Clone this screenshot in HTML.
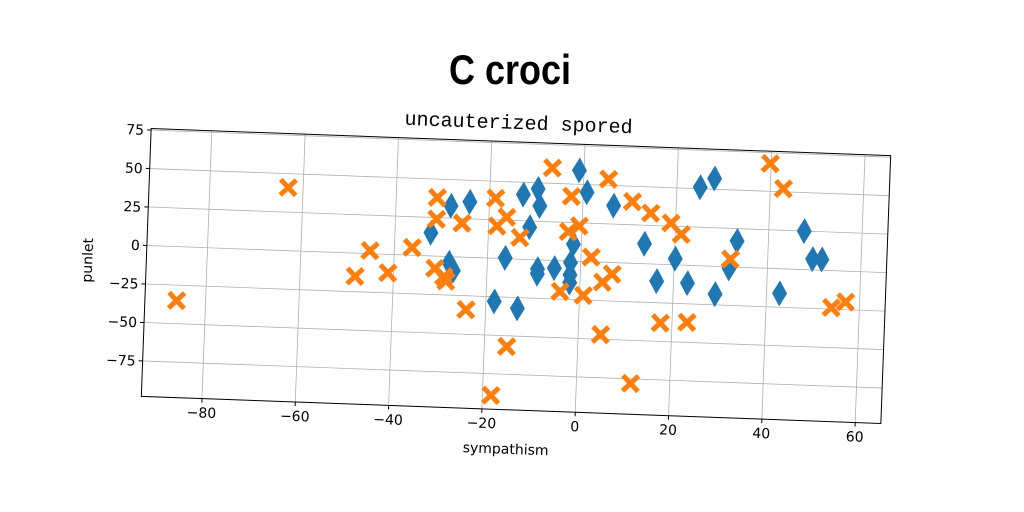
<!DOCTYPE html>
<html><head><meta charset="utf-8">
<style>
html,body{margin:0;padding:0;background:#fff;}
svg{display:block;}
text{font-family:"DejaVu Sans","Liberation Sans",sans-serif;}
</style></head>
<body>
<svg id="chart" width="1024" height="512" viewBox="0 0 1024 512" xmlns="http://www.w3.org/2000/svg">
  <rect width="1024" height="512" fill="#fff"/>
  <text x="510" y="84" text-anchor="middle" font-size="40" font-weight="bold" style="font-family:'Liberation Sans',sans-serif" transform="translate(510,0) scale(0.9,1.05) translate(-510,-4)">C croci</text>
  <g id="plot" transform="rotate(2.1,516,276)">
    <text x="513" y="129" text-anchor="middle" font-size="20" style="font-family:'Liberation Mono',monospace">uncauterized spored</text>
    <g id="grid"></g>
    <g id="marks"></g>
    <rect x="146" y="142" width="740" height="268" fill="none" stroke="#000" stroke-width="1"/>
    <g id="ticks"></g>
    <text x="512" y="454" text-anchor="middle" font-size="14">sympathism</text>
    <text x="0" y="0" text-anchor="middle" font-size="14" transform="translate(92,276) rotate(-90)">punlet</text>
  </g>
</svg>
<script>
const xTicks=[-80,-60,-40,-20,0,20,40,60];
const yTicks=[-75,-50,-25,0,25,50,75];
const seriesAx=[-32.3,-28.2,-28.2,-27.2,-24.2,-18.2,-16.2,-13.2,-12.8,-11.2,-9.7,-9.2,-9.2,-9.2,-5.6,-2.2,-2.2,-1,-1.7,-2.2,0.8,6.6,13.5,16.4,20.2,23,25,28,29,31.8,33.3,42.8,47.6,49.6,51.6];
const seriesAy=[15,33,-4,-9,36,-28,0.5,-32,42,21,46,35,-6,-9,-5,-1,-9,59,11,-14,45,37,13,-11,4,-11.5,51,57,-18,-1,17,-16,25,7,7];
const seriesBx=[-86.2,-63.2,-48.2,-45.2,-41.2,-36.2,-31.2,-31.2,-31.2,-29.2,-28.7,-25.7,-24.2,-18.2,-18.7,-18.2,-16.2,-15.2,-13.2,-6.8,-4.2,-2.9,-2.5,-0.6,0.8,2.2,4.8,4.8,5.3,6.8,10.6,11.6,14.6,17.5,19,21.3,23.2,32,39.8,42.8,54,57];
const seriesBy=[-35,41,-15,2,-12,5,38,24,-8,-13,-16,22,-34,-89,39,21,27,-57,14,60,-20,19,42,23,-22,3,-47,-13,54,-7.5,40,-78,33,-38,27,20,-37,5,68,52,-24,-20];
const X0=146,X1=886,Y0=142,Y1=410,xmin=-93,xmax=65.5,ymin=-98,ymax=76;
const sx=v=>X0+(v-xmin)/(xmax-xmin)*(X1-X0);
const sy=v=>Y1-(v-ymin)/(ymax-ymin)*(Y1-Y0);
const NS="http://www.w3.org/2000/svg";
const grid=document.getElementById('grid'),ticks=document.getElementById('ticks'),marks=document.getElementById('marks');
function mk(t,a){const e=document.createElementNS(NS,t);for(const k in a)e.setAttribute(k,a[k]);return e;}
xTicks.forEach(v=>{
  const l=mk('line',{x1:sx(v),x2:sx(v),y1:Y0,y2:Y1,stroke:'#b0b0b0','stroke-width':0.8});
  
  
  grid.appendChild(l);
  const t=mk('line',{x1:sx(v),x2:sx(v),y1:Y1,y2:Y1+4,stroke:'#000'});
  
  
  ticks.appendChild(t);
  const s=mk('text',{x:sx(v),y:Y1+19,'text-anchor':'middle','font-size':14});
  s.textContent=v<0?'\u2212'+Math.abs(v):v;
  
  
  ticks.appendChild(s);
});
yTicks.forEach(v=>{
  const l=mk('line',{x1:X0,x2:X1,y1:sy(v),y2:sy(v),stroke:'#b0b0b0','stroke-width':0.8});
  
  
  grid.appendChild(l);
  const t=mk('line',{x1:X0-4,x2:X0,y1:sy(v),y2:sy(v),stroke:'#000'});
  
  
  ticks.appendChild(t);
  const s=mk('text',{x:X0-7,y:sy(v)+5,'text-anchor':'end','font-size':14});
  s.textContent=v<0?'\u2212'+Math.abs(v):v;
  
  
  ticks.appendChild(s);
});
seriesAx.forEach((v,i)=>{
  const x=sx(v),y=sy(seriesAy[i]);
  const p=mk('path',{d:`M${x},${y-13}L${x+7.5},${y}L${x},${y+13}L${x-7.5},${y}Z`,fill:'#1f77b4'});
  
  
  marks.appendChild(p);
});
seriesBx.forEach((v,i)=>{
  const x=sx(v),y=sy(seriesBy[i]);
  const p=mk('path',{d:`M${x-6},${y-6}L${x+6},${y+6}M${x-6},${y+6}L${x+6},${y-6}`,stroke:'#ff7f0e','stroke-width':5,'stroke-linecap':'square'});
  
  
  marks.appendChild(p);
});
</script>
</body></html>
